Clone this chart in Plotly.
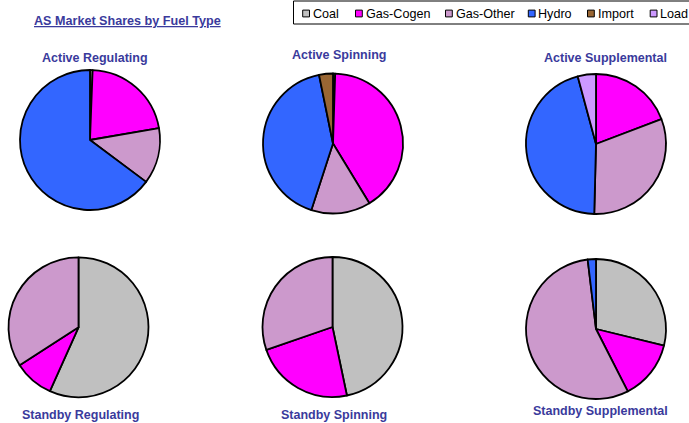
import plotly.graph_objects as go

# ---- data ----
fuel_types = ["Coal", "Gas-Cogen", "Gas-Other", "Hydro", "Import", "Load"]
fuel_colors = ["#C0C0C0", "#FF00FF", "#CC99CC", "#3366FF", "#996633", "#CC99FF"]

chart_titles = ["Active Regulating", "Active Spinning", "Active Supplemental",
                "Standby Regulating", "Standby Spinning", "Standby Supplemental"]

active_regulating = [0.6, 21.7, 12.9, 64.8, 0.0, 0.0]
active_spinning = [0.5, 40.8, 13.7, 41.8, 3.2, 0.0]
active_supplemental = [0.0, 19.2, 31.2, 45.4, 0.0, 4.2]
standby_regulating = [56.7, 9.2, 34.1, 0.0, 0.0, 0.0]
standby_spinning = [46.7, 23.0, 30.3, 0.0, 0.0, 0.0]
standby_supplemental = [28.8, 13.7, 55.6, 1.9, 0.0, 0.0]

series = [active_regulating, active_spinning, active_supplemental,
          standby_regulating, standby_spinning, standby_supplemental]

# ---- layout (pixels) ----
W, H = 689, 423
pie_centers = [(90, 140), (333, 143.5), (596, 144), (78.5, 327.3), (332.5, 327), (596, 329)]
pie_radius = 70
title_pos = [(95, 58), (339, 55), (605.5, 57.5), (80, 415), (334, 415), (600, 411)]
TEXT_COLOR = "#3A3A9C"
FONT = "Liberation Sans, Arial, sans-serif"


def px(x):
    return x / W


def py(y):
    return 1 - y / H


fig = go.Figure()
for vals, (cx, cy), name in zip(series, pie_centers, chart_titles):
    labs = [l for l, v in zip(fuel_types, vals) if v > 0]
    cols = [c for c, v in zip(fuel_colors, vals) if v > 0]
    vs = [v for v in vals if v > 0]
    fig.add_trace(go.Pie(
        labels=labs, values=vs, name=name,
        marker=dict(colors=cols, line=dict(color="black", width=1.8)),
        sort=False, direction="clockwise", rotation=0,
        textinfo="none", showlegend=False,
        domain=dict(x=[px(cx - pie_radius), px(cx + pie_radius)],
                    y=[py(cy + pie_radius), py(cy - pie_radius)]),
    ))

annotations = [dict(text="<b><u>AS Market Shares by Fuel Type</u></b>", x=px(127), y=py(20.5),
                    xref="paper", yref="paper", showarrow=False, xanchor="center", yanchor="middle",
                    font=dict(family=FONT, size=12.6, color=TEXT_COLOR))]
for name, (tx, ty) in zip(chart_titles, title_pos):
    annotations.append(dict(text="<b>" + name + "</b>", x=px(tx), y=py(ty), xref="paper", yref="paper",
                            showarrow=False, xanchor="center", yanchor="middle",
                            font=dict(family=FONT, size=12.5, color=TEXT_COLOR)))

# custom compact legend
legend_sym_x = [302.7, 355.5, 445.5, 528.3, 587.5, 650.2]
legend_y = 13.5
sym = 6.8
shapes = [dict(type="rect", xref="paper", yref="paper", x0=px(293.5), x1=px(700), y0=py(1), y1=py(24),
               line=dict(color="black", width=1), fillcolor="white", layer="below")]
for lab, col, sx in zip(fuel_types, fuel_colors, legend_sym_x):
    shapes.append(dict(type="rect", xref="paper", yref="paper", x0=px(sx), x1=px(sx + sym),
                       y0=py(legend_y + sym / 2), y1=py(legend_y - sym / 2),
                       line=dict(color="black", width=1), fillcolor=col))
    annotations.append(dict(text=lab, x=px(sx + sym + 1.2), y=py(legend_y + 0.5), xref="paper", yref="paper",
                            showarrow=False, xanchor="left", yanchor="middle",
                            font=dict(family=FONT, size=12.6, color="black")))

fig.update_layout(width=W, height=H, margin=dict(l=0, r=0, t=0, b=0),
                  paper_bgcolor="white", plot_bgcolor="white",
                  annotations=annotations, shapes=shapes, showlegend=False)

fig.write_html("out.html", config={"displayModeBar": False},
               post_script="document.body.style.margin='0';document.body.style.overflow='hidden';")
